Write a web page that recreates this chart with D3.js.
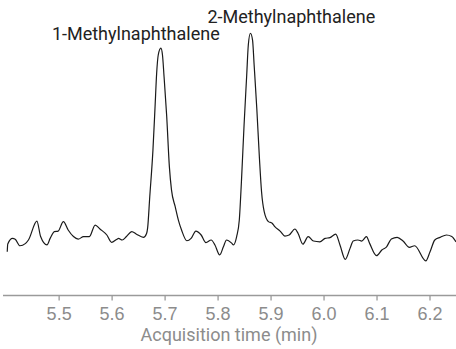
<!DOCTYPE html>
<html>
<head>
<script src="https://cdnjs.cloudflare.com/ajax/libs/d3/7.8.5/d3.min.js"></script>
<style>
  body { margin: 0; background: #fff; }
  svg { display: block; font-family: Roboto, "Noto Sans", sans-serif; }
  .axis path, .axis line { stroke: #9a9a9a; stroke-width: 1.3; }
  .axis text { fill: #8c8c8c; font-size: 18px; }
</style>
</head>
<body>
<svg id="chart" width="456" height="349"></svg>
<script>
// acquisition time (min) and detector response (arbitrary units, apex ~100)
const times = [
  5.403, 5.404, 5.413, 5.418, 5.427, 5.437, 5.443, 5.459, 5.466, 5.478,
  5.484, 5.492, 5.499, 5.509, 5.518, 5.528, 5.537, 5.547, 5.558, 5.569,
  5.578, 5.591, 5.600, 5.610, 5.613, 5.620, 5.628, 5.638, 5.647, 5.660,
  5.666, 5.668, 5.672, 5.678, 5.682, 5.685, 5.688, 5.693, 5.696, 5.699,
  5.704, 5.709, 5.713, 5.720, 5.726, 5.732, 5.742, 5.750, 5.759, 5.769,
  5.778, 5.788, 5.795, 5.804, 5.811, 5.817, 5.827, 5.830, 5.836, 5.841,
  5.845, 5.850, 5.855, 5.858, 5.862, 5.866, 5.869, 5.874, 5.879, 5.883,
  5.888, 5.896, 5.903, 5.908, 5.918, 5.927, 5.935, 5.946, 5.952, 5.961,
  5.971, 5.981, 5.993, 6.003, 6.012, 6.023, 6.031, 6.041, 6.050, 6.056,
  6.065, 6.072, 6.081, 6.087, 6.100, 6.110, 6.119, 6.128, 6.139, 6.150,
  6.162, 6.172, 6.193, 6.201, 6.210, 6.220, 6.232, 6.242, 6.250
];
const response = [
  16.5, 19.5, 21.6, 21.3, 18.8, 19.6, 21.0, 28.2, 22.3, 19.1,
  21.6, 24.2, 24.4, 28.0, 24.8, 22.3, 21.3, 22.3, 22.3, 26.7,
  25.2, 22.9, 20.1, 21.3, 21.6, 21.0, 22.3, 24.2, 23.2, 22.0,
  23.5, 25.6, 37.5, 55.3, 71.9, 84.6, 91.6, 94.2, 91.6, 83.3,
  68.1, 49.0, 40.1, 33.7, 28.6, 24.8, 20.7, 21.6, 24.4, 22.9,
  20.0, 21.0, 19.1, 15.3, 18.4, 21.0, 19.7, 19.1, 22.3, 28.6,
  43.2, 64.9, 84.0, 95.4, 99.9, 97.3, 87.8, 71.3, 52.2, 39.4,
  31.8, 28.0, 27.4, 26.1, 24.4, 22.5, 22.9, 25.2, 23.5, 19.4,
  22.3, 20.6, 20.3, 21.6, 21.9, 23.2, 19.1, 13.6, 17.8, 20.6,
  21.0, 20.6, 22.3, 19.7, 15.0, 17.2, 18.4, 21.4, 22.0, 20.6,
  18.2, 18.8, 13.0, 16.5, 21.0, 22.0, 22.9, 22.3, 20.3
];
const xTicks = [5.5, 5.6, 5.7, 5.8, 5.9, 6.0, 6.1, 6.2];
const peakNames = ["1-Methylnaphthalene", "2-Methylnaphthalene"];
const peakTimes = [5.693, 5.862];
const peakHeights = [94.2, 99.9];

const svg = d3.select("#chart");

const x = d3.scaleLinear().domain([5.395, 6.25]).range([3, 456]);
const y = d3.scaleLinear().domain([0, 100]).range([295, 33]);

// x axis
const xAxis = svg.append("g")
  .attr("class", "axis")
  .attr("transform", "translate(0,295.5)")
  .call(d3.axisBottom(x).tickValues(xTicks).tickFormat(d3.format(".1f"))
    .tickSizeInner(5).tickSizeOuter(0).tickPadding(7));
xAxis.select(".domain").attr("d", `M${x.range()[0]},0H${x.range()[1]}`);

svg.append("text")
  .attr("x", 229)
  .attr("y", 341)
  .attr("text-anchor", "middle")
  .attr("fill", "#8c8c8c")
  .attr("font-size", 18)
  .text("Acquisition time (min)");

// trace
const pts = times.map((t, i) => [t, response[i]]);
const line = d3.line()
  .x(d => x(d[0]))
  .y(d => y(d[1]))
  .curve(d3.curveMonotoneX);

svg.append("path")
  .datum(pts)
  .attr("fill", "none")
  .attr("stroke", "#1a1a1a")
  .attr("stroke-width", 1.2)
  .attr("d", line);

// peak labels
const labelDx = [-109, -43];
const labelDy = [-8, -10];
peakNames.forEach((name, i) => {
  svg.append("text")
    .attr("x", x(peakTimes[i]) + labelDx[i])
    .attr("y", y(peakHeights[i]) + labelDy[i])
    .attr("fill", "#222")
    .attr("font-size", 18)
    .text(name);
});
</script>
</body>
</html>
